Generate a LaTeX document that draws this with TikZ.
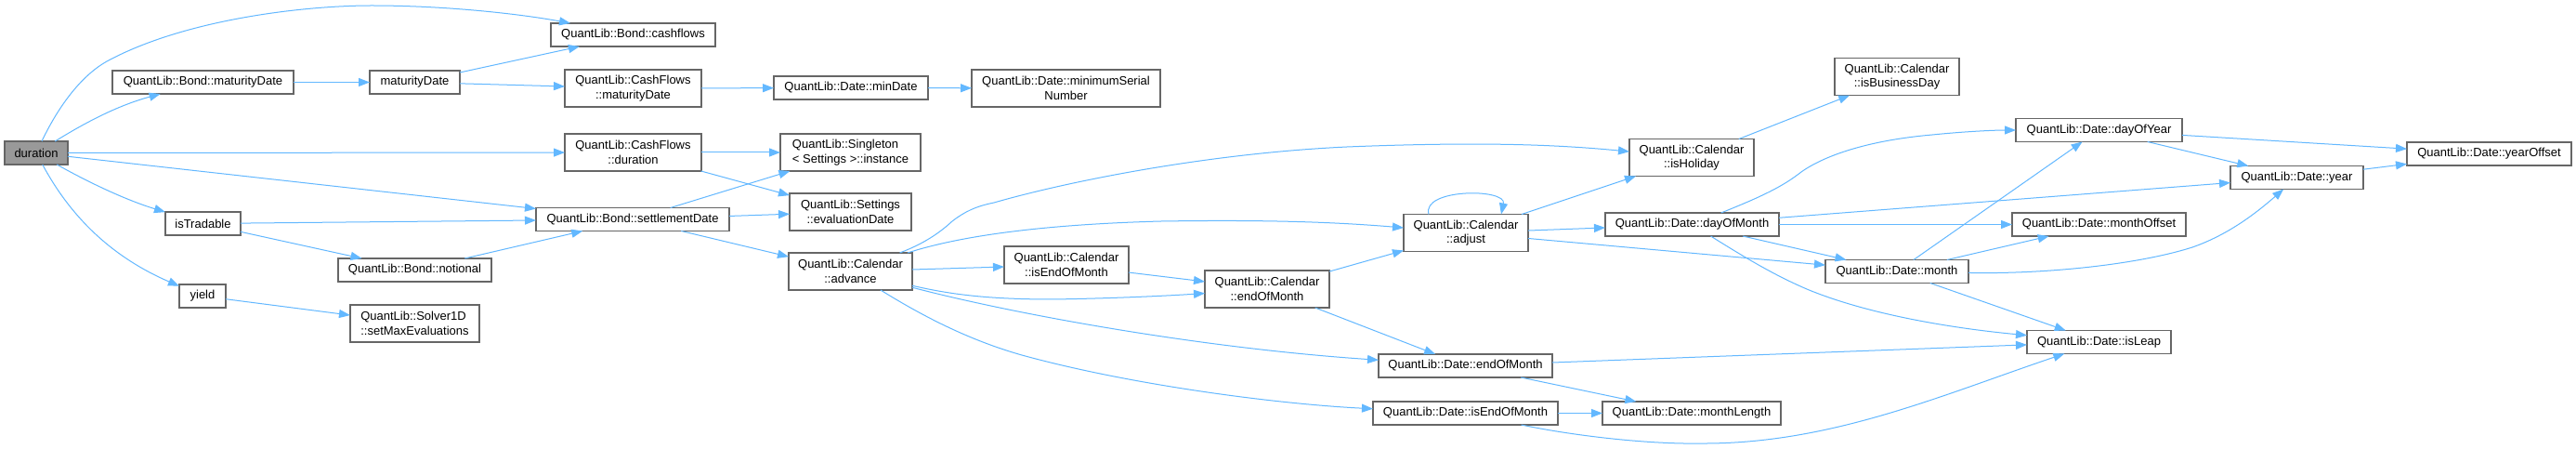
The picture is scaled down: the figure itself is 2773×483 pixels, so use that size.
\documentclass[tikz,border=0pt]{standalone}
\usepackage{fontspec}
\setmainfont{Liberation Sans}
\usetikzlibrary{arrows.meta,calc}
\definecolor{edgeblue}{HTML}{63B8FF}
\definecolor{boxgray}{HTML}{666666}
\definecolor{hlfill}{HTML}{999999}
\begin{document}
\begin{tikzpicture}[x=1bp,y=-1bp,
  fn/.style={draw=boxgray, line width=1.1bp, fill=white, inner sep=0pt, outer sep=0pt,
    font=\fontsize{13bp}{15.5bp}\selectfont, align=center, text=black},
  hl/.style={fn, fill=hlfill},
  sz/.style 2 args={minimum width=#1bp, minimum height=#2bp},
  e/.style={draw=edgeblue, line width=1bp, -{Triangle[length=12bp,width=9bp]}}]
\fill[white] (0,0) rectangle (2773,483);
\useasboundingbox (0,0) rectangle (2773,483);

% nodes
\node[hl, sz={68}{25}] (dur) at (39,164.5) {duration};
\node[fn, sz={195}{25}] (bmat) at (218.5,88.5) {QuantLib::Bond::maturityDate};
\node[fn, sz={97}{25}] (mat) at (446.5,88.5) {maturityDate};
\node[fn, sz={81}{25}] (istr) at (218.5,240.5) {isTradable};
\node[fn, sz={165}{25}] (notl) at (446.5,290.5) {QuantLib::Bond::notional};
\node[fn, sz={50}{25}] (yld) at (218,318.5) {yield};
\node[fn, sz={139}{40}, align=left] (solv) at (446.5,348) {QuantLib::Solver1D\\::setMaxEvaluations};
\node[fn, sz={177}{25}] (cfl) at (681.5,37.5) {QuantLib::Bond::cashflows};
\node[fn, sz={147}{40}] (cfmat) at (681.5,95) {QuantLib::CashFlows\\::maturityDate};
\node[fn, sz={166}{25}] (mind) at (916,94.5) {QuantLib::Date::minDate};
\node[fn, sz={203}{40}] (msn) at (1147.5,95) {QuantLib::Date::minimumSerial\\Number};
\node[fn, sz={147}{40}] (cfdur) at (681.5,164) {QuantLib::CashFlows\\::duration};
\node[fn, sz={151}{40}, align=left] (inst) at (915.5,164) {QuantLib::Singleton\\< Settings >::instance};
\node[fn, sz={131}{40}] (evd) at (915.5,228) {QuantLib::Settings\\::evaluationDate};
\node[fn, sz={208}{25}] (sett) at (681,236) {QuantLib::Bond::settlementDate};
\node[fn, sz={133}{40}] (adv) at (915.5,292) {QuantLib::Calendar\\::advance};
\node[fn, sz={134}{40}] (ceom) at (1148,285) {QuantLib::Calendar\\::isEndOfMonth};
\node[fn, sz={134}{40}] (cend) at (1364,311) {QuantLib::Calendar\\::endOfMonth};
\node[fn, sz={134}{40}] (adj) at (1578,250.5) {QuantLib::Calendar\\::adjust};
\node[fn, sz={187}{25}] (dend) at (1577.5,393.5) {QuantLib::Date::endOfMonth};
\node[fn, sz={199}{25}] (disend) at (1577.5,444.5) {QuantLib::Date::isEndOfMonth};
\node[fn, sz={134}{40}] (isbd) at (2042,82.5) {QuantLib::Calendar\\::isBusinessDay};
\node[fn, sz={134}{40}] (ishol) at (1821,169.5) {QuantLib::Calendar\\::isHoliday};
\node[fn, sz={187}{25}] (dom) at (1821.5,241.5) {QuantLib::Date::dayOfMonth};
\node[fn, sz={154}{25}] (mon) at (2042,292) {QuantLib::Date::month};
\node[fn, sz={192}{25}] (mlen) at (1821,444.5) {QuantLib::Date::monthLength};
\node[fn, sz={179}{25}] (doy) at (2259.5,140) {QuantLib::Date::dayOfYear};
\node[fn, sz={187}{25}] (moff) at (2259.5,241.5) {QuantLib::Date::monthOffset};
\node[fn, sz={155}{25}] (leap) at (2259.5,368) {QuantLib::Date::isLeap};
\node[fn, sz={143}{25}] (year) at (2472.5,191) {QuantLib::Date::year};
\node[fn, sz={177}{25}] (yoff) at (2679.5,165.5) {QuantLib::Date::yearOffset};

% edges from duration
\draw[e] (dur) .. controls (65,110) and (90,80) .. (115,66)
  .. controls (200,20) and (330,6) .. (400,6)
  .. controls (480,6) and (560,15) .. (cfl);
\draw[e] (dur) .. controls (90,133) and (125,114) .. (bmat);
\draw[e] (dur) -- (cfdur);
\draw[e] (dur) -- (sett);
\draw[e] (dur) .. controls (95,196) and (135,215) .. (istr);
\draw[e] (dur) .. controls (70,222) and (110,272) .. (yld);

\draw[e] (bmat) -- (mat);
\draw[e] (mat) -- (cfl);
\draw[e] (mat) -- (cfmat);
\draw[e] (istr) -- (sett);
\draw[e] (istr) -- (notl);
\draw[e] (notl) -- (sett);
\draw[e] (yld) -- (solv);
\draw[e] (cfmat) -- (mind);
\draw[e] (mind) -- (msn);
\draw[e] (cfdur) -- (inst);
\draw[e] (cfdur) -- (evd);
\draw[e] (sett) -- (inst);
\draw[e] (sett) -- (evd);
\draw[e] (sett) -- (adv);

% edges from advance
\draw[e] (adv) .. controls (995,262) and (1012,250) .. (1025,238)
  .. controls (1038,228) and (1050,222) .. (1070,218)
  .. controls (1150,195) and (1300,165) .. (1450,158)
  .. controls (1600,152) and (1680,156) .. (ishol);
\draw[e] (adv) .. controls (1020,258) and (1100,242) .. (1250,238)
  .. controls (1380,236) and (1450,240) .. (adj);
\draw[e] (adv) -- (ceom);
\draw[e] (adv) .. controls (1020,316) and (1060,322) .. (1133,322)
  .. controls (1200,321) and (1260,318) .. (cend);
\draw[e] (adv) .. controls (1100,340) and (1300,375) .. (dend);
\draw[e] (adv) .. controls (990,338) and (1040,365) .. (1100,382)
  .. controls (1220,415) and (1380,435) .. (disend);

\draw[e] (ceom) -- (cend);
\draw[e] (cend) -- (adj);
\draw[e] (cend) -- (dend);

% adjust
\draw[e] ($(adj.north west)+(27,0)$) .. controls +(-8,-28) and +(6,-28) .. ($(adj.north west)+(105,0)$);
\draw[e] (adj) -- (ishol);
\draw[e] (adj) -- (dom);
\draw[e] (adj) -- (mon);
\draw[e] (ishol) -- (isbd);

% dayOfMonth
\draw[e] (dom) .. controls (1890,214) and (1915,203) .. (1935,188)
  .. controls (1955,172) and (2000,152) .. (2080,145)
  .. controls (2120,141) and (2150,140) .. (doy);
\draw[e] (dom) -- (year);
\draw[e] (dom) -- (moff);
\draw[e] (dom) -- (mon);
\draw[e] (dom) .. controls (1880,278) and (1910,296) .. (1945,311)
  .. controls (2010,338) and (2100,353) .. (leap);

% month
\draw[e] (mon) -- (doy);
\draw[e] (mon) -- (moff);
\draw[e] (mon) .. controls (2200,295) and (2300,285) .. (2360,266)
  .. controls (2400,252) and (2430,228) .. (year);
\draw[e] (mon) -- (leap);

\draw[e] (dend) -- (leap);
\draw[e] (dend) -- (mlen);
\draw[e] (disend) -- (mlen);
\draw[e] (disend) .. controls (1700,470) and (1780,478) .. (1830,477)
  .. controls (1970,478) and (2090,425) .. (leap);

\draw[e] (doy) -- (yoff);
\draw[e] (doy) -- (year);
\draw[e] (year) -- (yoff);
\end{tikzpicture}
\end{document}
